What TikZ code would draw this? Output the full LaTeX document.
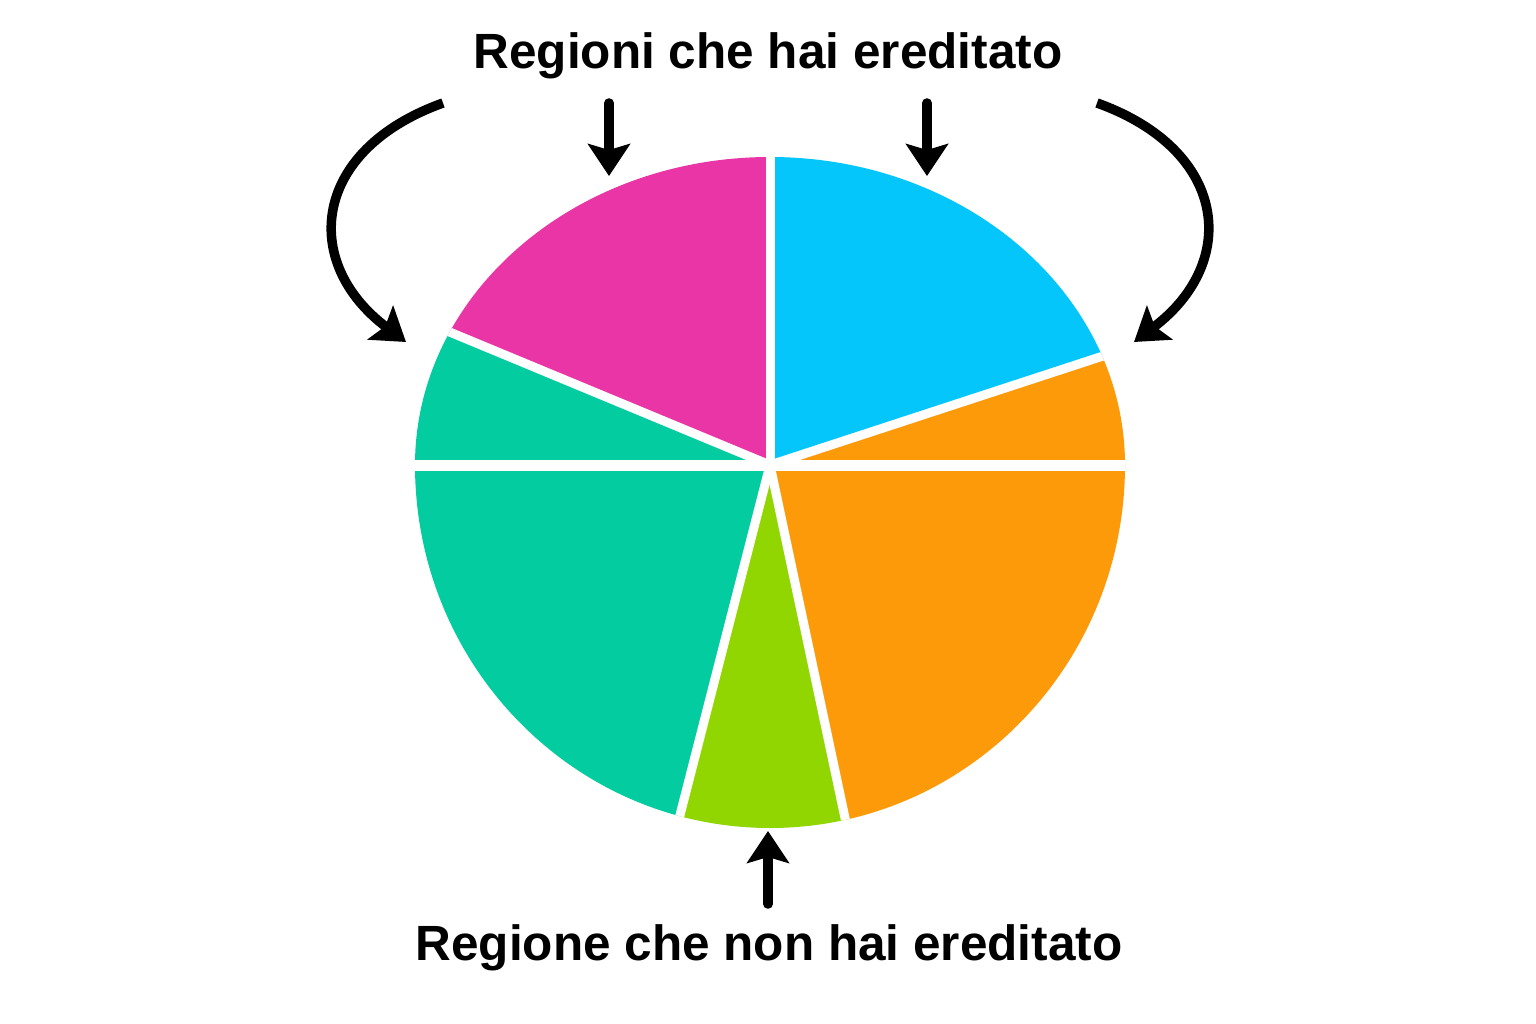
\documentclass[tikz,border=0pt]{standalone}
\usepackage{fontspec}
\setmainfont{Liberation Sans}
\usetikzlibrary{arrows.meta}
\definecolor{cmag}{RGB}{233,53,165}
\definecolor{cblue}{RGB}{4,198,250}
\definecolor{corange}{RGB}{253,154,10}
\definecolor{cteal}{RGB}{3,204,160}
\definecolor{clime}{RGB}{145,214,0}
\tikzset{
  sep/.style={draw=white,line width=9pt},
  arr/.style={draw=black,line width=9.5pt,-{Stealth[length=32pt,width=42pt,inset=6pt]}},
  lbl/.style={font=\bfseries\fontsize{49.5}{54}\selectfont,inner sep=0pt}
}
\begin{document}
\begin{tikzpicture}[x=1pt,y=-1pt]
\useasboundingbox[fill=white] (0,0) rectangle (1536,1024);
\coordinate (C) at (770,465);
\coordinate (T) at (770,-200);
\coordinate (ML) at (-184,69);
\coordinate (L) at (-300,465);
\coordinate (BR) at (1760,141);
\coordinate (R) at (1800,465);
\coordinate (RB) at (1800,1200);
\coordinate (OL) at (995,1524);
\coordinate (GL) at (500,1515);
\coordinate (LB) at (-300,1200);
\begin{scope}
\clip (1125,465) arc[start angle=0,end angle=-180,x radius=355,y radius=308]
  arc[start angle=180,end angle=0,x radius=355,y radius=363] -- cycle;
\fill[cmag] (C) -- (T) -- (ML) -- cycle;
\fill[cteal] (C) -- (ML) -- (L) -- cycle;
\fill[cblue] (C) -- (T) -- (BR) -- cycle;
\fill[corange] (C) -- (BR) -- (R) -- cycle;
\fill[corange] (C) -- (R) -- (RB) -- (OL) -- cycle;
\fill[clime] (C) -- (OL) -- (GL) -- cycle;
\fill[cteal] (C) -- (GL) -- (LB) -- (L) -- cycle;
\draw[sep] (C) -- (T);
\draw[sep] (C) -- (ML);
\draw[sep,line width=11pt] (L) -- (R);
\draw[sep] (C) -- (BR);
\draw[sep] (C) -- (OL);
\draw[sep] (C) -- (GL);
\end{scope}
\node[lbl] (top) at (768,56) {Regioni che hai ereditato};
\node[lbl] (bot) at (769,948) {Regione che non hai ereditato};
\coordinate (a1s) at (609,103); \coordinate (a1e) at (609,176);
\coordinate (a2s) at (927,103); \coordinate (a2e) at (927,176);
\coordinate (a3s) at (768,904); \coordinate (a3e) at (768,831);
\coordinate (c1s) at (443,103); \coordinate (c1e) at (406,342);
\coordinate (c2s) at (1097,103); \coordinate (c2e) at (1134,342);
\draw[arr,line cap=round] (a1s) -- (a1e);
\draw[arr,line cap=round] (a2s) -- (a2e);
\draw[arr,line cap=round] (a3s) -- (a3e);
\draw[arr] (c1s) .. controls (312,150) and (300,262) .. (c1e);
\draw[arr] (c2s) .. controls (1228,150) and (1240,262) .. (c2e);
\end{tikzpicture}
\end{document}
